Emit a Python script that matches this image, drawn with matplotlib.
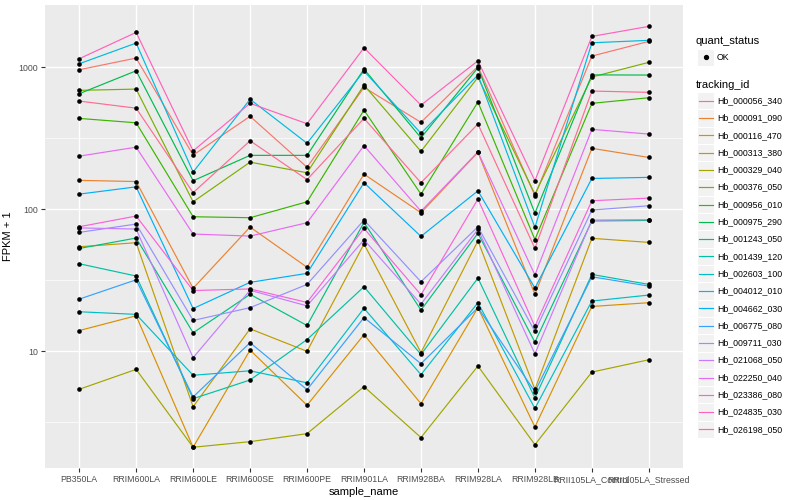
import matplotlib
matplotlib.use('Agg')
import matplotlib.pyplot as plt
from matplotlib.patches import Rectangle
from matplotlib.ticker import FixedLocator, NullFormatter

plt.rcParams['font.family'] = ['Liberation Sans', 'DejaVu Sans']

samples = ['PB350LA', 'RRIM600LA', 'RRIM600LE', 'RRIM600SE', 'RRIM600PE', 'RRIM901LA',
           'RRIM928BA', 'RRIM928LA', 'RRIM928LB', 'RRII105LA_Control', 'RRII105LA_Stressed']

tracking_ids = ['Hb_000056_340', 'Hb_000091_090', 'Hb_000116_470', 'Hb_000313_380',
                'Hb_000329_040', 'Hb_000376_050', 'Hb_000956_010', 'Hb_000975_290',
                'Hb_001243_050', 'Hb_001439_120', 'Hb_002603_100', 'Hb_004012_010',
                'Hb_004662_030', 'Hb_006775_080', 'Hb_009711_030', 'Hb_021068_050',
                'Hb_022250_040', 'Hb_023386_080', 'Hb_024835_030', 'Hb_026198_050']

# FPKM + 1 per gene, one row per tracking_id, one value per sample
fpkm_plus_1 = [
    [962, 1163, 241, 452, 198, 723, 410, 1016, 125, 1201, 1524],
    [160, 157, 27.8, 75, 39.1, 177, 94.6, 252, 25.2, 269, 232],
    [14.0, 17.8, 2.11, 10.2, 4.17, 13.1, 4.28, 20.3, 2.93, 20.7, 22.0],
    [54.5, 58.2, 4.07, 14.4, 10.0, 57, 9.8, 60, 5.4, 62.5, 58.5],
    [5.4, 7.46, 2.11, 2.31, 2.63, 5.64, 2.47, 7.88, 2.2, 7.14, 8.72],
    [689, 703, 113, 215, 181, 750, 256, 851, 128, 855, 1085],
    [437, 407, 88.7, 87.3, 113, 500, 128, 570, 61.3, 558, 611],
    [652, 946, 159, 240, 240, 973, 319, 994, 94, 885, 883],
    [53, 62.8, 13.5, 25.2, 15.2, 81, 19.5, 67.8, 11.6, 82.8, 83.5],
    [41.4, 33.9, 4.64, 6.28, 12.1, 28.5, 9.5, 32.8, 4.7, 34.8, 29.6],
    [19.0, 18.2, 6.78, 7.29, 6.0, 20.1, 6.85, 22.0, 3.96, 22.6, 24.9],
    [1060, 1483, 183, 596, 292, 942, 343, 883, 74.6, 1490, 1550],
    [128, 144, 20, 30.6, 35.4, 154, 64.5, 135, 27.9, 165, 168],
    [23.3, 31.9, 4.77, 11.5, 5.37, 17.3, 8.18, 20.3, 5.2, 33.5, 28.8],
    [68.8, 78.8, 16.5, 20.3, 29.6, 84, 30.9, 75.4, 13.8, 98.9, 106],
    [74, 72.6, 9.02, 26.9, 20.9, 61, 21.5, 72.3, 9.6, 84, 84.6],
    [237, 274, 67, 64.8, 80.5, 281, 97, 254, 34.5, 366, 339],
    [75.4, 89.7, 26.8, 27.5, 22.1, 73.4, 25.0, 118, 15.0, 115, 120],
    [1150, 1763, 258, 558, 401, 1374, 542, 1112, 159, 1652, 1944],
    [579, 516, 131, 304, 162, 437, 154, 399, 53.1, 681, 667],
]

# ggplot2 default hue palette for 20 levels
colors = ['#F8766D', '#EA8331', '#D89000', '#C09B00', '#A3A500', '#7CAE00', '#39B600',
          '#00BB4E', '#00BF7D', '#00C1A3', '#00BFC4', '#00BAE0', '#00B0F6', '#35A2FF',
          '#9590FF', '#C77CFF', '#E76BF3', '#FA62DB', '#FF62BC', '#FF6C91']

fig = plt.figure(figsize=(8, 5), dpi=100)
ax = fig.add_axes([45 / 800, 1 - 468 / 500, (683 - 45) / 800, (468 - 5) / 500])
ax.set_facecolor('#EBEBEB')
for s in ax.spines.values():
    s.set_visible(False)

x = list(range(len(samples)))
for vals, col in zip(fpkm_plus_1, colors):
    ax.plot(x, vals, color=col, lw=0.85, zorder=3)
for vals in fpkm_plus_1:
    ax.scatter(x, vals, s=11, color='black', zorder=4, linewidths=0)

ax.set_yscale('log')
ax.set_ylim(1.507, 2750)
ax.set_xlim(-0.6, len(samples) - 0.4)
ax.yaxis.set_major_locator(FixedLocator([10, 100, 1000]))
ax.set_yticklabels(['10', '100', '1000'])
ax.yaxis.set_minor_locator(FixedLocator([10 ** 0.5, 10 ** 1.5, 10 ** 2.5]))
ax.yaxis.set_minor_formatter(NullFormatter())
ax.set_xticks(x)
ax.set_xticklabels(samples)

ax.grid(which='major', color='white', lw=1.0, zorder=0)
ax.grid(which='minor', axis='y', color='white', lw=0.5, zorder=0)
ax.set_axisbelow(True)
ax.tick_params(which='major', length=3, width=0.8, color='#333333',
               labelsize=6.3, labelcolor='#4D4D4D', pad=2)
ax.tick_params(which='minor', length=0)

ax.set_xlabel('sample_name', fontsize=8, labelpad=2)
ax.set_ylabel('FPKM + 1', fontsize=8, labelpad=4)

# legends drawn in pixel coordinates
leg = fig.add_axes([0, 0, 1, 1])
leg.set_xlim(0, 800)
leg.set_ylim(500, 0)
leg.axis('off')
leg.patch.set_alpha(0)

leg.text(696, 41, 'quant_status', fontsize=8, va='center', ha='left')
leg.add_patch(Rectangle((697, 48.5), 17, 17, facecolor='#F2F2F2', edgecolor='white', lw=0.8))
leg.plot([705.5], [57], 'o', color='black', ms=2.8)
leg.text(717, 57, 'OK', fontsize=6.3, va='center', ha='left')

leg.text(696, 84.5, 'tracking_id', fontsize=8, va='center', ha='left')
for i, (tid, col) in enumerate(zip(tracking_ids, colors)):
    yc = 100.7 + 17.3 * i
    leg.add_patch(Rectangle((697, yc - 8.65), 17, 17.3, facecolor='#F2F2F2', edgecolor='white', lw=0.8))
    leg.plot([698.5, 712.5], [yc, yc], color=col, lw=0.85)
    leg.text(717, yc, tid, fontsize=6.3, va='center', ha='left')

fig.savefig('out.png', dpi=100)
